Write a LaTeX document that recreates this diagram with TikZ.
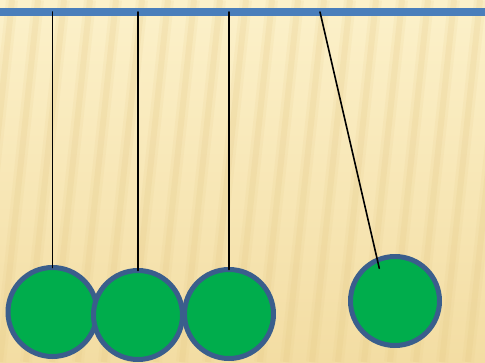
\documentclass[tikz,border=0pt]{standalone}
\definecolor{barblue}{HTML}{4A7EBB}
\definecolor{ballgreen}{HTML}{00AD4C}
\definecolor{ballrim}{HTML}{3A5E8C}
\definecolor{paper}{HTML}{FCF1CA}
\definecolor{paperdark}{HTML}{F3DDA3}
\definecolor{stripe}{HTML}{E3C783}
\begin{document}
\begin{tikzpicture}[x=1pt, y=-1pt, line cap=round, line join=round,
    ball/.style={circle, draw=ballrim, line width=5pt, fill=ballgreen,
      minimum size=89pt, inner sep=0pt, outer sep=0pt},
    cord/.style={black, line width=1.6pt}]
    \useasboundingbox (0,0) rectangle (485,362);
    \shade[top color=paper, bottom color=paperdark] (0,0) rectangle (485,362);
    \begin{scope}
      \clip (0,0) rectangle (485,362);
      \foreach \x in {-40,-14,...,560} {
        \draw[stripe, line width=12pt, opacity=0.12, line cap=butt] (\x,0) -- (\x-38,362);
        \draw[stripe, line width=6pt, opacity=0.18, line cap=butt] (\x,0) -- (\x-38,362);
      }
    \end{scope}
    % top bar
    \draw[barblue, line width=8pt, line cap=butt] (0,12) -- (485,12);
    % balls
    \node[ball] (b1) at (52.5,312) {};
    \node[ball] (b2) at (138,315) {};
    \node[ball] (b3) at (229,314) {};
    \node[ball] (b4) at (395,301) {};
    % strings
    \coordinate (t1) at (52.5,12);
    \coordinate (t2) at (138,12);
    \coordinate (t3) at (229,12);
    \coordinate (t4) at (320,12);
    \coordinate (k4) at (379.3,268.3);
    \draw[cord] (t1) -- (b1.north);
    \draw[cord] (t2) -- (b2.north);
    \draw[cord] (t3) -- (b3.north);
    \draw[cord] (t4) -- (k4);
  \end{tikzpicture}
\end{document}
